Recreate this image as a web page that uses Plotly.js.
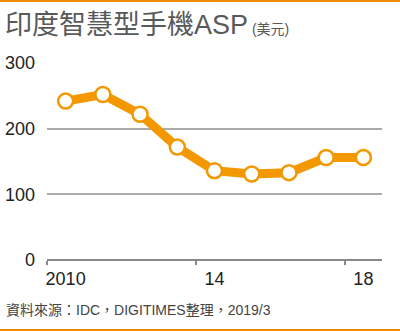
<!DOCTYPE html>
<html>
<head>
<meta charset="utf-8">
<script src="https://cdn.plot.ly/plotly-3.0.1.min.js"></script>
<style>
html,body{margin:0;padding:0;background:#fff;}
#wrap{position:relative;width:400px;height:331px;overflow:hidden;}
#chart{width:400px;height:331px;}
.bar{position:absolute;left:0;width:400px;height:2px;background:#F08A00;pointer-events:none;}
</style>
</head>
<body>
<div id="wrap">
<div id="chart"></div>
<div class="bar" style="top:0"></div>
<div class="bar" style="top:329px"></div>
</div>
<script>
const years = [2010, 2011, 2012, 2013, 2014, 2015, 2016, 2017, 2018];
const asp = [242, 252, 222, 172, 136, 131, 133, 156, 156];
const xTickVals = [2010, 2014, 2018];
const xTickText = ['2010', '14', '18'];
const xTickMarks = [2009.5, 2013.5, 2017.5];
const yTickVals = [0, 100, 200, 300];
const titleMain = '印度智慧型手機ASP';
const titleUnit = '(美元)';
const sourceText = '資料來源：IDC，DIGITIMES整理，2019/3';

const orange = '#F39800';
const grid = '#ABABAB';
const fontFam = 'Liberation Sans, Arial, "Noto Sans CJK TC", sans-serif';

const trace = {
  x: years, y: asp, type: 'scatter', mode: 'lines+markers',
  line: {color: orange, width: 9},
  marker: {size: 15, color: '#fff', line: {color: orange, width: 2.5}},
  hoverinfo: 'skip', showlegend: false
};

const layout = {
  width: 400, height: 331,
  margin: {l: 47, r: 18, t: 63, b: 71},
  paper_bgcolor: '#fff', plot_bgcolor: '#fff',
  font: {family: fontFam, color: '#222'},
  title: {
    text: titleMain + '<span style="font-size:14px;"> ' + titleUnit + '</span>',
    font: {family: fontFam, size: 27, color: '#595959'},
    x: 5/400, xref: 'container', xanchor: 'left',
    y: 1 - 25/331, yref: 'container', yanchor: 'middle'
  },
  xaxis: {
    range: [2009.5, 2018.5], tickvals: xTickVals, ticktext: xTickText,
    ticks: '', showgrid: false, zeroline: false, showline: false,
    tickfont: {size: 18, color: '#222'}, ticklabelstandoff: 6
  },
  xaxis2: {
    overlaying: 'x', anchor: 'y', side: 'bottom',
    range: [2009.5, 2018.5], tickvals: xTickMarks,
    ticks: 'outside', ticklen: 4, tickwidth: 2, tickcolor: '#888',
    showticklabels: false, showgrid: false, zeroline: false, showline: false
  },
  yaxis: {
    range: [0, 300], tickvals: yTickVals,
    showgrid: true, gridcolor: grid, gridwidth: 2,
    zeroline: true, zerolinecolor: '#888', zerolinewidth: 2,
    showline: false, ticks: '',
    tickfont: {size: 18, color: '#222'}, ticklabelstandoff: 11
  },
  annotations: [{
    text: sourceText, xref: 'paper', yref: 'paper',
    x: -43/335, xanchor: 'left', y: -50/197, yanchor: 'middle',
    showarrow: false, font: {family: fontFam, size: 14, color: '#444'}
  }]
};

const t2 = {x: [years[0]], y: [asp[0]], xaxis: 'x2', yaxis: 'y', mode: 'markers',
  marker: {opacity: 0}, hoverinfo: 'skip', showlegend: false};

Plotly.newPlot('chart', [t2, trace], layout, {displayModeBar: false, staticPlot: true});
</script>
</body>
</html>
